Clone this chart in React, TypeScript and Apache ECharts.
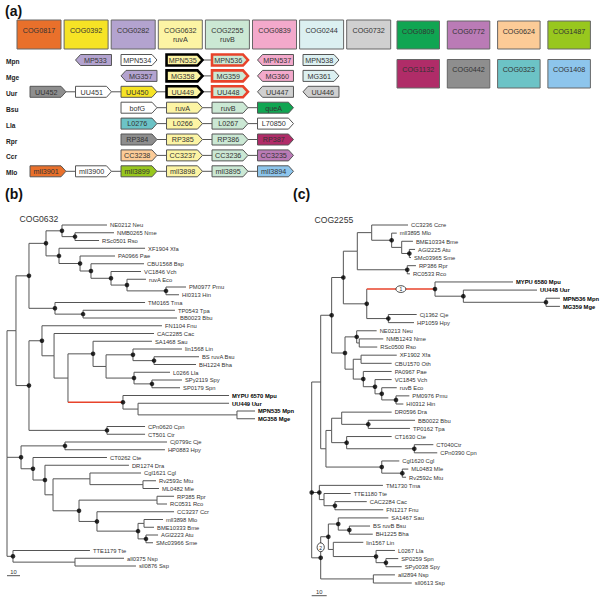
import React, { useEffect, useRef } from "react";
import * as echarts from "echarts";

const FONT = '"Liberation Sans", Arial, Helvetica, sans-serif';

// ---------------- DATA: panel (a) ----------------
const cogIds = ["COG0817", "COG0392", "COG0282", "COG0632", "COG2255", "COG0839", "COG0244", "COG0732",
  "COG0809", "COG0772", "COG0624", "COG1487", "COG1132", "COG0442", "COG0323", "COG1408"];
const cogSubtitles = ["", "", "", "ruvA", "ruvB", "", "", "", "", "", "", "", "", "", "", ""];

const rowNames = ["Mpn", "Mge", "Uur", "Bsu", "Lla", "Rpr", "Ccr", "Mlo"];

// [column, gene, COG, direction (1 right / -1 left), highlight]
const mpnGenes = [[1, "MP533", "COG0282", -1, ""], [2, "MPN534", "", 1, ""], [3, "MPN535", "COG0632", 1, "k"], [4, "MPN536", "COG2255", 1, "r"], [5, "MPN537", "COG0839", -1, ""], [6, "MPN538", "COG0244", 1, ""]];
const mgeGenes = [[2, "MG357", "COG0282", -1, ""], [3, "MG358", "COG0632", 1, "k"], [4, "MG359", "COG2255", 1, "r"], [5, "MG360", "COG0839", -1, ""], [6, "MG361", "COG0244", 1, ""]];
const uurGenes = [[0, "UU452", "COG0442", 1, ""], [1, "UU451", "", 1, ""], [2, "UU450", "COG0392", 1, ""], [3, "UU449", "COG0632", 1, "k"], [4, "UU448", "COG2255", 1, "r"], [5, "UU447", "COG0732", -1, ""], [6, "UU446", "COG0732", -1, ""]];
const bsuGenes = [[2, "bofG", "", 1, ""], [3, "ruvA", "COG0632", 1, ""], [4, "ruvB", "COG2255", 1, ""], [5, "queA", "COG0809", 1, ""]];
const llaGenes = [[2, "L0276", "COG0323", 1, ""], [3, "L0266", "COG0632", 1, ""], [4, "L0267", "COG2255", 1, ""], [5, "L70850", "", 1, ""]];
const rprGenes = [[2, "RP384", "COG0442", 1, ""], [3, "RP385", "COG0632", 1, ""], [4, "RP386", "COG2255", 1, ""], [5, "RP387", "COG1132", 1, ""]];
const ccrGenes = [[2, "CC3238", "COG0624", 1, ""], [3, "CC3237", "COG0632", 1, ""], [4, "CC3236", "COG2255", 1, ""], [5, "CC3235", "COG0772", 1, ""]];
const mloGenes = [[0, "mll3901", "COG0817", 1, ""], [1, "mll3900", "", 1, ""], [2, "mll3899", "COG1487", 1, ""], [3, "mll3898", "COG0632", 1, ""], [4, "mll3895", "COG2255", 1, ""], [5, "mll3894", "COG1408", 1, ""]];
const geneRows = [mpnGenes, mgeGenes, uurGenes, bsuGenes, llaGenes, rprGenes, ccrGenes, mloGenes];

// [row, column] : link between column and column+1
const geneLinks = [[0, 3], [1, 3], [2, 0], [2, 1], [2, 2], [2, 3], [3, 2], [3, 3], [3, 4], [4, 2], [4, 3], [4, 4],
  [5, 2], [5, 3], [5, 4], [6, 2], [6, 3], [6, 4], [7, 0], [7, 1], [7, 2], [7, 3], [7, 4]];

// ---------------- DATA: trees (Newick, branch lengths; "*" = supported node, "r" = red branch, h#/v# = circled label) ----------------
const treeB =
  "(((((NE0212_Neu:34.6,(NMB0265_Nme:30,RSc0501_Rso:18.5)*:10)*:12.3,(XF1904_Xfa:66.2,(PA0966_Pae:26.9,(CBU1568_Bsp:40.8,(VC1846_Vch:23.1,(ruvA_Eco:14.6,(PM0977_Pmu:15.4,HI0313_Hin:10)*:30)*:12.3)*:15.4)*:8.4)*:16.2)*:10)*:13.1,(TM0165_Tma:69.3,(TP0543_Tpa:70.7,BB0023_Bbu:72.3)*:21.6)*:20)*:10," +
  "((FN1104_Fnu:92.3,(CAC2285_Cac:76.9,((SA1468_Sau:45.3,((lin1568_Lin:37.7,(BS_ruvA_Bsu:34.6,BH1224_Bha:32.3)*:16.2)*:20.7,(L0266_Lla:27.7,(SPy2119_Spy:23.1,SP0179_Spn:21.6)*:13.8)*:21.5):10)*:19.3,(MYPU_6570_Mpu:81.6,(UU449_Uur:70,(MPN535_Mpn:13.9,MG358_Mge:13.9):76.1):11.6)*r:42.3):10.7):9.3)*:10,(CPn0620_Cpn:29.3,CT501_Ctr:29.3)*:60)*:10):6.9," +
  "((Cj0799c_Cje:78.5,HP0883_Hpy:76.9)*:33.8,(CT0262_Cte:56.9,(DR1274_Dra:64.6,((Cgl1621_Cgl:39.3,(Rv2593c_Mtu:10,ML0482_Mle:12.3):40.8):28.4,((RP385_Rpr:13.1,RC0531_Rco:7.7):60,(CC3237_Ccr:59.3,((mll3898_Mlo:14.6,BME10333_Bme:7.7):4.6,(AGl2223_Atu:9.3,SMc03966_Sme:5.4)*:6.1)*:31.6)*:13.8)*:20):6.2)*:9.2)*:9.2)*:10.8," +
  "(TTE1179_Tte:59.2,(all0375_Nsp:37.7,sll0876_Ssp:46.9):47.7)*:4.6);";

const treeC =
  "((((((CC3236_Ccre:24.2,(mll3895_Mlo:3.4,(BME10334_Bme:7.5,(AGl2225_Atu:3.8,SMc03965_Sme:1.1)*:5.1):6.7)*:13.3):9.6,(RP386_Rpr:5.8,RC0533_Rco:1.8)*:33.3):9.3,((MYPU_6580_Mpu:52,(UU448_Uur:49.1,(MPN536_Mpn:9.3,MG359_Mge:9.3)*:55.1)*:18.9)*rh1:45.5,(Cj1362_Cje:18.9,HP1059_Hpy:17.1)*:14.4)*:15.6)*:7.8," +
  "((NE0213_Neu:13.3,(NMB1243_Nme:16,RSc0500_Rso:12):1.7)*:7.8,((XF1902_Xfa:23.8,CBU1570_Oth:20.4):5.2,(PA0967_Pae:18.9,(VC1845_Vch:11.1,(ruvB_Eco:10,(PM0976_Pmu:8.9,HI0312_Hin:4.9)*:9.5)*:4.5)*:7.8)*:6.7):5.5)*:8.9)*:7.3," +
  "(((DR0596_Dra:33.3,(BB0022_Bbu:31.2,TP0162_Tpa:27.8)*:17.7):6.7,(CT1630_Cte:30,(CT040Ctr:12.7,CPn0390_Cpn:15.3)*:45.1)*:10):3.8,(Cgl1620_Cgl:11.7,(ML0483_Mle:4,Rv2592c_Mtu:2.5)*:13.7)*:37.2):3.5):6," +
  "(TM1730_Tma:42.4,(TTE1180_Tte:17.8,(CAC2284_Cac:21.2,FN1217_Fnu:32.2)*:7.3):3.1)*:5.1," +
  "(((SA1467_Sau:33.4,(BS_ruvB_Bsu:13.8,BH1225_Bha:15.6)*:7.4)*:6.6,(lin1567_Lin:20,(L0267_Lla:12.6,(SP0259_Spn:8.2,SPy0038_Spy:10.5)*:6.6)*:28.5):3.3)*v2:5.1,(all2894_Nsp:14.4,sll0613_Ssp:25.6):35.1)*:6)*;";

const boldLeavesB = ["MYPU 6570 Mpu", "UU449 Uur", "MPN535 Mpn", "MG358 Mge"];
const boldLeavesC = ["MYPU 6580 Mpu", "UU448 Uur", "MPN536 Mpn", "MG359 Mge"];
const scaleBarLength = 10;

// ---------------- STYLE ----------------
const cogPalette: Record<string, string> = {
  COG0817: "#E9702B", COG0392: "#F6E325", COG0282: "#B3A3CF", COG0632: "#FCF4A4", COG2255: "#CBE8D4",
  COG0839: "#F3A9CB", COG0244: "#DCF0F1", COG0732: "#D0D0D0", COG0809: "#10A552", COG0772: "#BA7BB6",
  COG0624: "#FCCB97", COG1487: "#98C71E", COG1132: "#B02C68", COG0442: "#8E8E8E", COG0323: "#6CC3C6",
  COG1408: "#8DC5EC",
};
const LINE = "#555";
const RED = "#E8432B";
const TXT = "#333";

// ---------------- tree helpers ----------------
function parseNewick(src: string) {
  const s = src.replace(/\s+/g, "");
  let i = 0;
  function node(): any {
    const n: any = { name: "", len: 0, children: [] };
    if (s[i] === "(") {
      i++;
      n.children.push(node());
      while (s[i] === ",") { i++; n.children.push(node()); }
      i++;
    }
    let name = "";
    while (i < s.length && ",():;".indexOf(s[i]) < 0) name += s[i++];
    n.name = name;
    if (s[i] === ":") {
      i++;
      let num = "";
      while (i < s.length && ",();".indexOf(s[i]) < 0) num += s[i++];
      n.len = parseFloat(num);
    }
    return n;
  }
  return node();
}

function layoutTree(root: any, bold: string[]) {
  const nodes: any[] = [];
  let leaf = 0;
  function walk(n: any, px: number, parent: any) {
    n.x = px + n.len;
    n.parent = parent;
    nodes.push(n);
    if (n.children.length) {
      n.children.forEach((c: any) => walk(c, n.x, n));
      const ch = n.children;
      n.y = ch.length === 3 ? ch[1].y : (ch[0].y + ch[ch.length - 1].y) / 2;
      n.dot = n.name.indexOf("*") >= 0;
      n.red = n.name.indexOf("r") >= 0;
      const h = /h(\d)/.exec(n.name);
      const v = /v(\d)/.exec(n.name);
      n.hLabel = h ? h[1] : null;
      n.vLabel = v ? v[1] : null;
      n.label = null;
    } else {
      n.y = leaf++;
      n.label = n.name.replace(/_/g, " ");
      n.bold = bold.indexOf(n.label) >= 0;
    }
  }
  walk(root, 0, null);
  return nodes;
}

const nodesB = layoutTree(parseNewick(treeB), boldLeavesB);
const nodesC = layoutTree(parseNewick(treeC), boldLeavesC);

function ln(a: number[], b: number[], color: string, w: number) {
  return { type: "line", shape: { x1: a[0], y1: a[1], x2: b[0], y2: b[1] }, style: { stroke: color, lineWidth: w } };
}

function circled(cx: number, cy: number, t: string, rx: number, ry: number) {
  return [
    { type: "ellipse", shape: { cx, cy, rx, ry }, style: { fill: "#fff", stroke: "#222", lineWidth: 0.8 } },
    { type: "text", style: { x: cx, y: cy + 0.3, text: t, fontSize: 5, fontFamily: FONT, fill: "#222", align: "center", verticalAlign: "middle" } },
  ];
}

function treeSeries(nodes: any[], idx: number, scaleY: number) {
  return [
    {
      type: "custom", xAxisIndex: idx, yAxisIndex: idx, silent: true, z: 2,
      data: nodes.map((n) => [n.x, n.y, n.parent ? n.parent.x : n.x, n.parent ? n.parent.y : n.y]),
      renderItem: (params: any, api: any) => {
        const n = nodes[params.dataIndex];
        const els: any[] = [];
        if (n.parent) {
          const pA = api.coord([n.parent.x, n.parent.y]);
          const pB = api.coord([n.parent.x, n.y]);
          const pC = api.coord([n.x, n.y]);
          if (Math.abs(pA[1] - pB[1]) > 0.01) els.push(ln(pA, pB, LINE, 1));
          els.push(ln(pB, pC, n.red ? RED : LINE, n.red ? 1.5 : 1));
          if (n.hLabel) els.push(...circled((pB[0] + pC[0]) / 2, pB[1], n.hLabel, 5, 3.4));
          if (n.vLabel) els.push(...circled(pA[0], (pA[1] + pB[1]) / 2, n.vLabel, 3.6, 4.4));
          if (n.label) {
            els.push({
              type: "text",
              style: {
                x: pC[0] + 3, y: pC[1] + 0.3, text: n.label, fontSize: 5.8, fontFamily: FONT,
                fontWeight: n.bold ? "bold" : "normal", fill: n.bold ? "#000" : TXT, align: "left", verticalAlign: "middle",
              },
            });
          }
        }
        return { type: "group", children: els };
      },
    },
    {
      type: "scatter", xAxisIndex: idx, yAxisIndex: idx, silent: true, z: 3,
      symbol: "circle", symbolSize: 4.6, itemStyle: { color: "#000" },
      data: nodes.filter((n) => n.dot).map((n) => [n.x, n.y]),
    },
    {
      type: "custom", xAxisIndex: idx, yAxisIndex: idx, silent: true,
      data: [[0, scaleY]],
      renderItem: (params: any, api: any) => {
        const a = api.coord([api.value(0), api.value(1)]);
        const b = api.coord([api.value(0) + scaleBarLength, api.value(1)]);
        return {
          type: "group",
          children: [
            ln(a, b, LINE, 1),
            { type: "text", style: { x: (a[0] + b[0]) / 2, y: a[1] - 4, text: String(scaleBarLength), fontSize: 5.8, fontFamily: FONT, fill: TXT, align: "center", verticalAlign: "middle" } },
          ],
        };
      },
    },
  ];
}

// ---------------- genes ----------------
const genes: any[] = [];
geneRows.forEach((row, r) => row.forEach((g: any) => genes.push({ col: g[0], row: r, name: g[1], cog: g[2], dir: g[3], hl: g[4] })));

const GENE_W = 0.79;

function buildOption() {
  return {
    animation: false,
    backgroundColor: "#fff",
    grid: [
      { left: 25.25, top: 52.05, width: 318.5, height: 127.2, outerBoundsMode: "none" },
      { left: 7, top: 225, width: 260, height: 341, outerBoundsMode: "none" },
      { left: 311.7, top: 225, width: 270, height: 358, outerBoundsMode: "none" },
    ],
    xAxis: [
      { gridIndex: 0, type: "value", min: -0.5, max: 6.5, show: false },
      { gridIndex: 1, type: "value", min: 0, max: 200, show: false },
      { gridIndex: 2, type: "value", min: 0, max: 180, show: false },
    ],
    yAxis: [
      { gridIndex: 0, type: "value", min: -0.5, max: 7.5, inverse: true, show: false },
      { gridIndex: 1, type: "value", min: 0, max: 44, inverse: true, show: false },
      { gridIndex: 2, type: "value", min: 0, max: 44, inverse: true, show: false },
    ],
    graphic: [
      { type: "text", x: 5, y: 11, style: { text: "(a)", fontSize: 14, fontWeight: "bold", fontFamily: FONT, fill: "#111", verticalAlign: "middle" } },
      { type: "text", x: 5, y: 194, style: { text: "(b)", fontSize: 14, fontWeight: "bold", fontFamily: FONT, fill: "#111", verticalAlign: "middle" } },
      { type: "text", x: 293, y: 194, style: { text: "(c)", fontSize: 14, fontWeight: "bold", fontFamily: FONT, fill: "#111", verticalAlign: "middle" } },
      { type: "text", x: 19.5, y: 218.5, style: { text: "COG0632", fontSize: 8.6, fontFamily: FONT, fill: TXT, verticalAlign: "middle" } },
      { type: "text", x: 314.5, y: 219.5, style: { text: "COG2255", fontSize: 8.6, fontFamily: FONT, fill: TXT, verticalAlign: "middle" } },
    ],
    series: [
      // COG legend boxes
      {
        type: "custom", coordinateSystem: "none", silent: true,
        data: cogIds.map((_, i) => [i]),
        renderItem: (params: any) => {
          const i = params.dataIndex;
          let left: number, top: number, w: number, h: number;
          if (i < 8) { left = 17 + i * 47.1; top = 20; w = 44; h = 29; }
          else if (i < 12) { left = 397 + (i - 8) * 50.3; top = 21; w = 42.5; h = 28; }
          else { left = 397 + (i - 12) * 50.3; top = 59.5; w = 42.5; h = 28.5; }
          const id = cogIds[i];
          const els: any[] = [
            { type: "rect", shape: { x: left, y: top, width: w, height: h }, style: { fill: cogPalette[id], stroke: "#666", lineWidth: 1 } },
            { type: "text", style: { x: left + w / 2, y: top + 10, text: id, fontSize: 7.2, fontFamily: FONT, fill: TXT, align: "center", verticalAlign: "middle" } },
          ];
          if (cogSubtitles[i]) {
            els.push({ type: "text", style: { x: left + w / 2, y: top + 19.5, text: cogSubtitles[i], fontSize: 7.2, fontFamily: FONT, fill: TXT, align: "center", verticalAlign: "middle" } });
          }
          return { type: "group", children: els };
        },
      },
      // gene links
      {
        type: "custom", xAxisIndex: 0, yAxisIndex: 0, silent: true,
        data: geneLinks.map((l) => [l[1], l[0]]),
        renderItem: (params: any, api: any) => {
          const a = api.coord([api.value(0), api.value(1)]);
          const b = api.coord([api.value(0) + 1, api.value(1)]);
          const half = api.size([GENE_W, 0])[0] / 2;
          return ln([a[0] + half, a[1]], [b[0] - half, b[1]], "#555", 1);
        },
      },
      // gene arrows
      {
        type: "custom", xAxisIndex: 0, yAxisIndex: 0, silent: true,
        data: genes.map((g) => [g.col, g.row]),
        renderItem: (params: any, api: any) => {
          const g = genes[params.dataIndex];
          const c = api.coord([api.value(0), api.value(1)]);
          const w = api.size([GENE_W, 0])[0];
          const h = 11, tip = 5;
          const x0 = c[0] - w / 2, x1 = c[0] + w / 2, y0 = c[1] - h / 2, y1 = c[1] + h / 2;
          const pts = g.dir > 0
            ? [[x0, y0], [x1 - tip, y0], [x1, c[1]], [x1 - tip, y1], [x0, y1]]
            : [[x1, y0], [x0 + tip, y0], [x0, c[1]], [x0 + tip, y1], [x1, y1]];
          const stroke = g.hl === "k" ? "#000" : g.hl === "r" ? RED : "#555";
          const lw = g.hl ? 2.6 : 1;
          return {
            type: "group",
            children: [
              { type: "polygon", shape: { points: pts }, style: { fill: g.cog ? cogPalette[g.cog] : "#fff", stroke, lineWidth: lw, lineJoin: "miter" } },
              { type: "text", style: { x: c[0] - g.dir * 1.8, y: c[1] + 0.3, text: g.name, fontSize: 7.2, fontFamily: FONT, fill: TXT, align: "center", verticalAlign: "middle" } },
            ],
          };
        },
      },
      // row labels
      {
        type: "custom", xAxisIndex: 0, yAxisIndex: 0, silent: true,
        data: rowNames.map((_, r) => [0, r]),
        renderItem: (params: any, api: any) => {
          const c = api.coord([api.value(0), api.value(1)]);
          return { type: "text", style: { x: 6, y: c[1] + 1.5, text: rowNames[params.dataIndex], fontSize: 6.6, fontWeight: "bold", fontFamily: FONT, fill: "#222", align: "left", verticalAlign: "middle" } };
        },
      },
      ...treeSeries(nodesB, 1, 45.25),
      ...treeSeries(nodesC, 2, 45.56),
    ],
  };
}

export default function App() {
  const ref = useRef<HTMLDivElement>(null);
  useEffect(() => {
    const chart = echarts.init(ref.current as HTMLDivElement, null, { renderer: "svg" });
    chart.setOption(buildOption() as any);
    return () => chart.dispose();
  }, []);
  return (
    <div
      ref={ref}
      style={{ position: "absolute", left: 0, top: 0, width: 600, height: 603, background: "#fff" }}
    />
  );
}
